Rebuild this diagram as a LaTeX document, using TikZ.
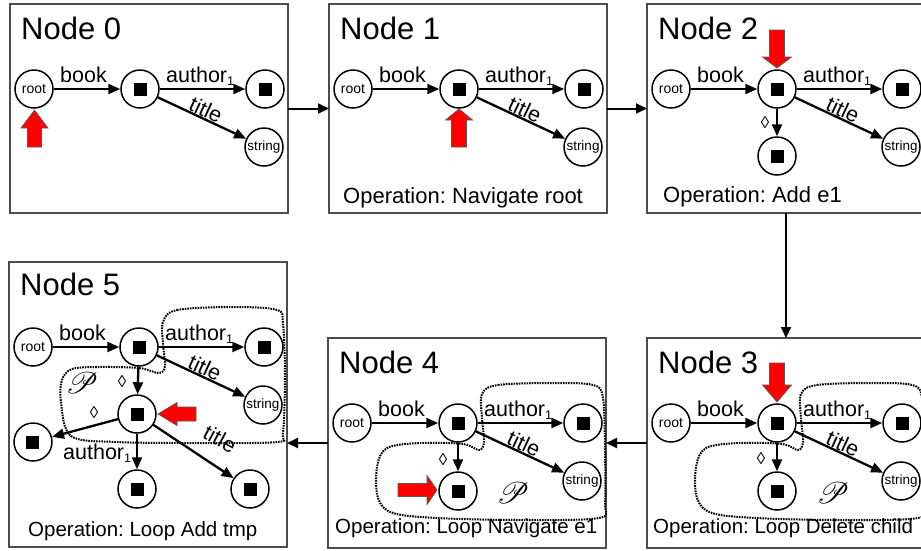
\documentclass[tikz,border=0pt]{standalone}
\usepackage{fontspec}
\setmainfont{Liberation Sans}
\usepackage{mathrsfs}
\usetikzlibrary{arrows.meta}
\frenchspacing

% black square inside an element circle
\newcommand\blk{\rule{13pt}{13pt}}
% edge label with lowered index
\newcommand\authlbl{author\raisebox{-3pt}{\fontsize{12.5}{12.5}\selectfont 1}}

% root --book--> element --author1--> element, element --title--> string
\newcommand\basetree[1]{%
  \node[circ] (#1r) at (24,85) {\fontsize{14}{14}\selectfont root};
  \node[circ] (#1m) at (130,85) {\blk};
  \node[circ] (#1a) at (255,85) {\blk};
  \node[circ] (#1s) at (254,143) {\fontsize{13.5}{13.5}\selectfont string};
  \draw[edge] (#1r) -- (#1m);
  \draw[edge] (#1m) -- (#1a);
  \draw[edge] (#1m) -- (#1s);
  \node[lbl,anchor=base] (#1lb) at (73.5,78) {book};
  \node[lbl,anchor=base west] (#1la) at (156,78) {\authlbl};
  \node[lbl,rotate=-25] (#1lt) at (196,106) {title};
}

\begin{document}
\begin{tikzpicture}[x=1pt,y=-1pt,
  panelbox/.style={draw=black!70,line width=1.6pt,inner sep=0pt,outer sep=0pt,
    anchor=north west,minimum width=278pt},
  circ/.style={circle,draw,line width=1.5pt,minimum size=38pt,inner sep=0pt},
  edge/.style={line width=2.3pt,-{Triangle[length=12pt,width=10pt]}},
  link/.style={line width=2pt,-{Triangle[length=11pt,width=10pt]}},
  ttl/.style={anchor=base west,inner sep=0pt,font=\fontsize{31}{31}\selectfont},
  lbl/.style={inner sep=0pt,font=\fontsize{21.5}{21.5}\selectfont},
  optop/.style={anchor=base west,inner sep=0pt,font=\fontsize{22}{22}\selectfont},
  opbot/.style={anchor=base west,inner sep=0pt,font=\fontsize{20.5}{20.5}\selectfont},
  dia/.style={inner sep=0pt,font=\fontsize{17}{17}\selectfont},
  scr/.style={inner sep=0pt,scale=1.2,font=\fontsize{24.88}{24.88}\selectfont},
  region/.style={line width=2pt,dash pattern=on 1.6pt off 1pt},
  redfill/.style={fill=red,draw=black!65,line width=0.7pt,line join=miter},
  pics/bigarrow/.style n args={4}{code={
    \draw[redfill] (0,0) -- (-#2,#3) -- (-#2,#4) -- (-#1,#4) -- (-#1,-#4)
      -- (-#2,-#4) -- (-#2,-#3) -- cycle;}}
]
\useasboundingbox (0,0) rectangle (921,550);
\fill[white] (0,0) rectangle (921,550);

% ---------- panels ----------
\node[panelbox,minimum height=209pt] (P0) at (10,4) {};
\node[panelbox,minimum height=209pt] (P1) at (329,4) {};
\node[panelbox,minimum height=209pt] (P2) at (647,4) {};
\node[panelbox,minimum height=210pt] (P3) at (647,338) {};
\node[panelbox,minimum height=210pt] (P4) at (328,338) {};
\node[panelbox,minimum height=285pt] (P5) at (9,262) {};

\draw[link] (P0) -- (P1);
\draw[link] (P1) -- (P2);
\draw[link] (P2) -- (P3);
\draw[link] (P3) -- (P4);
\draw[link] (P4.west) -- (P4.west -| P5.east);

% ---------- Node 0 ----------
\begin{scope}[shift={(10,4)}]
  \node[ttl] (t0) at (11,35) {Node 0};
  \basetree{a}
  \pic[rotate=90] at (24.5,106) {bigarrow={37}{18}{13.5}{7}};
\end{scope}

% ---------- Node 1 ----------
\begin{scope}[shift={(329,4)}]
  \node[ttl] (t1) at (11,35) {Node 1};
  \basetree{b}
  \pic[rotate=90] at (130,105) {bigarrow={38}{11}{13.5}{7.5}};
  \node[optop] (o1) at (14,199) {Operation: Navigate root};
\end{scope}

% ---------- Node 2 ----------
\begin{scope}[shift={(647,4)}]
  \node[ttl] (t2) at (11,35) {Node 2};
  \basetree{c}
  \node[circ] (cc) at (130,152) {\blk};
  \draw[edge] (cm) -- (cc);
  \node[dia] (cd) at (118,119) {◊};
  \pic[rotate=-90] at (130,64) {bigarrow={38}{11}{14.5}{7.5}};
  \node[optop] (o2) at (16,198) {Operation: Add e1};
\end{scope}

% ---------- Node 3 ----------
\begin{scope}[shift={(647,338)}]
  \node[ttl] (t3) at (11,35) {Node 3};
  \basetree{d}
  \node[circ] (dc) at (130,153) {\blk};
  \draw[edge] (dm) -- (dc);
  \node[dia] (dd) at (114,121) {◊};
  \node[scr] (dp) at (186,155) {$\mathscr{P}$};
  \draw[region] plot[smooth cycle,tension=0.55] coordinates {
    (154,56) (170,47) (225,45) (265,47) (275,60) (277,115) (277,165)
    (271,180) (192,182) (109,180) (65,175) (50,160) (49,129) (59,110)
    (92,105) (135,106) (151,112) (156,104) (154,80)};
  \pic[rotate=-90] at (130,64) {bigarrow={39}{17}{14.5}{7.5}};
  \node[opbot] (o3) at (6,195) {Operation: Loop Delete child};
\end{scope}

% ---------- Node 4 ----------
\begin{scope}[shift={(328,338)}]
  \node[ttl] (t4) at (11,35) {Node 4};
  \basetree{e}
  \node[circ] (ec) at (130,153) {\blk};
  \draw[edge] (em) -- (ec);
  \node[dia] (ed) at (115,122) {◊};
  \node[scr] (ep) at (185,155) {$\mathscr{P}$};
  \draw[region] plot[smooth cycle,tension=0.55] coordinates {
    (154,56) (170,47) (225,45) (265,47) (275,60) (277,115) (277,165)
    (271,180) (192,182) (109,180) (65,175) (50,160) (49,129) (59,110)
    (92,105) (135,106) (151,112) (156,104) (154,80)};
  \pic[rotate=0] at (109,152) {bigarrow={39}{10}{14.5}{6.5}};
  \node[opbot] (o4) at (7,195) {Operation: Loop Navigate e1};
\end{scope}

% ---------- Node 5 ----------
\begin{scope}[shift={(9,262)}]
  \node[ttl] (t5) at (11,33) {Node 5};
  \basetree{f}
  \node[circ] (fe) at (128,152) {\blk};
  \node[circ] (fl) at (24,180) {\blk};
  \node[circ] (fb) at (128,227) {\blk};
  \node[circ] (fr) at (241,227) {\blk};
  \draw[edge] (fm) -- (fe);
  \draw[edge] (fe) -- (fl);
  \draw[edge] (fe) -- (fb);
  \draw[edge] (fe) -- (fr);
  \node[lbl,anchor=base west] (fla2) at (54,197) {\authlbl};
  \node[lbl,rotate=-28] (flt2) at (211,177) {title};
  \node[dia] (fd1) at (113,120) {◊};
  \node[dia] (fd2) at (85,151) {◊};
  \node[scr] (fp) at (73,121) {$\mathscr{P}$};
  \draw[region] plot[smooth cycle,tension=0.55] coordinates {
    (154,60) (168,48) (224,45) (268,48) (274,62) (276,115) (274,171)
    (268,180) (191,181) (108,180) (62,174) (52,140) (53,118) (63,107)
    (90,105) (130,106) (150,111) (156,104) (154,82)};
  \pic[rotate=180] at (149,152) {bigarrow={38}{19}{11.5}{7}};
  \node[opbot] (o5) at (19,274) {Operation: Loop Add tmp};
\end{scope}
\end{tikzpicture}
\end{document}
